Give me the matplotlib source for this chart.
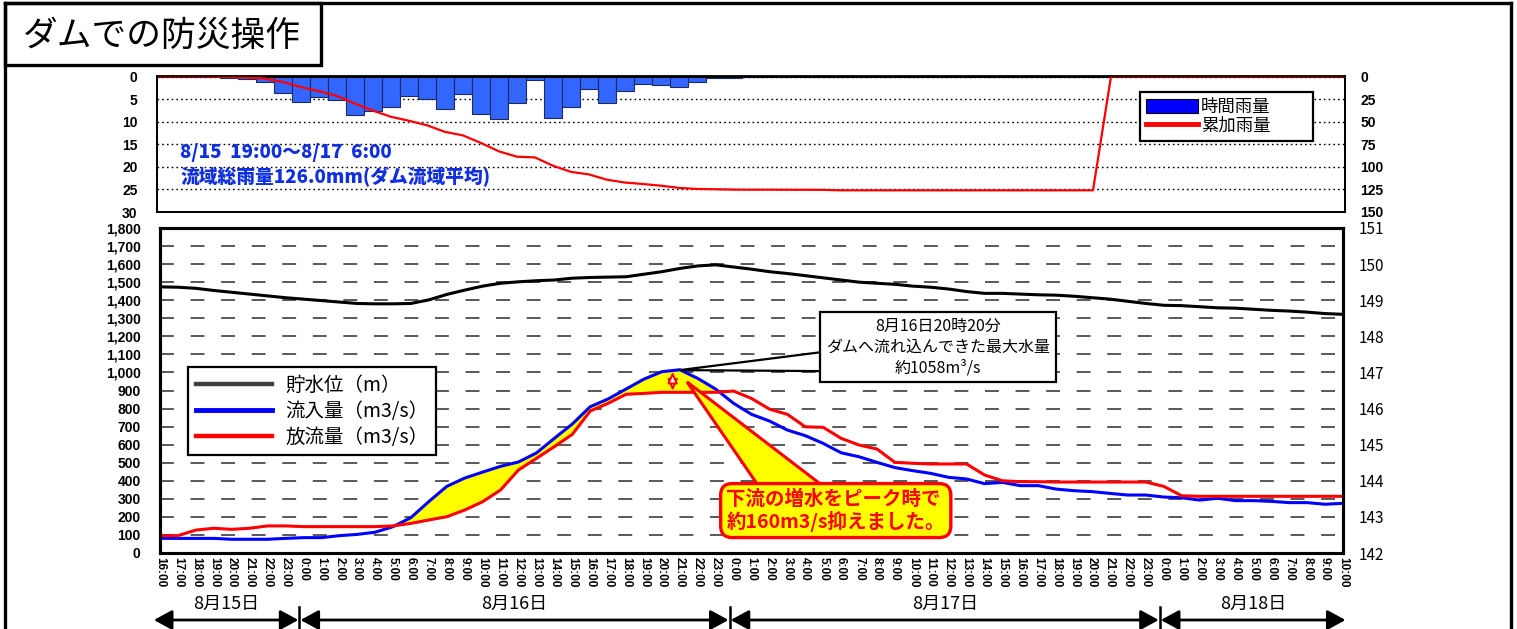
import matplotlib
matplotlib.use("Agg")
import matplotlib.pyplot as plt
import matplotlib.transforms as mtransforms
from matplotlib.lines import Line2D
from matplotlib.patches import Patch, Rectangle, Polygon

plt.rcParams['font.family'] = ['Noto Sans CJK JP', 'DejaVu Sans']
plt.rcParams['lines.scale_dashes'] = False

# ---------- データ ----------
hours = list(range(16, 24)) + list(range(0, 24)) + list(range(0, 24)) + list(range(0, 11))
tick_labels = [f"{h}:00" for h in hours]
day_labels = ["8月15日", "8月16日", "8月17日", "8月18日"]

# 時間雨量 (mm)
rain_hourly = [0, 0, 0, 0.1, 0.4, 0.6, 1.2, 3.7, 5.7, 4.5,
               5.3, 8.6, 7.7, 6.8, 4.4, 5.0, 7.3, 3.9, 8.4, 9.3,
               5.9, 0.8, 9.2, 6.8, 2.8, 5.9, 3.1, 1.6, 1.9, 2.4,
               1.2, 0.3, 0.4, 0.1, 0, 0.1, 0, 0.1, 0.1, 0,
               0, 0, 0, 0, 0, 0, 0, 0, 0, 0,
               0, 0, 0, 0, 0, 0, 0, 0, 0, 0,
               0, 0, 0, 0, 0, 0, 0]

# 累加雨量 (mm)
rain_total = [0, 0, 0, 0.1, 0.5, 1.1, 2.3, 6.0, 11.7, 16.2,
              21.5, 30.1, 37.8, 44.6, 49.0, 54.0, 61.3, 65.2, 73.6, 82.9,
              88.8, 89.6, 98.8, 105.6, 108.4, 114.3, 117.4, 119.0, 120.9, 123.3,
              124.5, 124.8, 125.2, 125.3, 125.3, 125.4, 125.4, 125.5, 126.0, 126.0,
              126.0, 126.0, 126.0, 126.0, 126.0, 126.0, 126.0, 126.0, 126.0, 126.0,
              126.0, 126.0, 126.0, 0, 0, 0, 0, 0, 0, 0,
              0, 0, 0, 0, 0, 0, 0]

# 流入量 (m3/s)
inflow = [81, 81, 81, 81, 76, 76, 76, 81, 85, 85,
          96, 103, 115, 146, 196, 285, 369, 415, 448, 480,
          504, 554, 635, 714, 810, 853, 908, 963, 1004, 1015,
          967, 908, 829, 768, 731, 681, 650, 607, 555, 533,
          502, 473, 456, 441, 419, 410, 384, 391, 373, 373,
          354, 345, 340, 330, 321, 321, 310, 306, 293, 303,
          290, 290, 286, 279, 279, 270, 275]

# 放流量 (m3/s)
outflow = [96, 96, 127, 137, 131, 137, 150, 150, 146, 146,
           146, 146, 146, 150, 164, 183, 201, 238, 284, 349,
           460, 524, 589, 657, 786, 829, 879, 884, 890, 890,
           890, 890, 897, 856, 797, 768, 699, 696, 635, 598,
           576, 502, 497, 493, 493, 493, 432, 400, 395, 395,
           393, 393, 393, 393, 393, 393, 369, 317, 314, 314,
           314, 314, 314, 314, 314, 314, 314]

# 貯水位 (m)
level = [149.37, 149.36, 149.33, 149.27, 149.22, 149.17, 149.12, 149.07, 149.03, 148.99,
         148.95, 148.91, 148.90, 148.90, 148.91, 149.01, 149.16, 149.28, 149.39, 149.47,
         149.51, 149.54, 149.56, 149.61, 149.63, 149.64, 149.65, 149.72, 149.79, 149.88,
         149.95, 149.98, 149.92, 149.86, 149.79, 149.74, 149.68, 149.62, 149.56, 149.50,
         149.47, 149.44, 149.39, 149.36, 149.31, 149.24, 149.19, 149.19, 149.17, 149.15,
         149.14, 149.11, 149.07, 149.03, 148.97, 148.91, 148.86, 148.85, 148.82, 148.79,
         148.78, 148.75, 148.72, 148.70, 148.67, 148.63, 148.61]

W, H = 1517, 629


def fig_rect(l, t, r, b):
    return [l / W, 1 - b / H, (r - l) / W, (b - t) / H]


num_font = dict(fontfamily='Liberation Sans', fontweight='bold')

fig = plt.figure(figsize=(W / 100, H / 100), dpi=100)
x = list(range(len(hours)))

# ---------- 枠とタイトル ----------
fig.add_artist(Line2D([5 / W, 1511 / W], [1 - 3 / H, 1 - 3 / H], color='black', lw=2.4,
                      transform=fig.transFigure))
fig.add_artist(Line2D([1511 / W, 1511 / W], [1 - 3 / H, 0], color='black', lw=2.4,
                      transform=fig.transFigure))
fig.add_artist(Line2D([5 / W, 5 / W], [1 - 3 / H, 0], color='black', lw=2.4,
                      transform=fig.transFigure))
fig.add_artist(Rectangle((5 / W, 1 - 65 / H), 316 / W, 62 / H, transform=fig.transFigure,
                         facecolor='white', edgecolor='black', lw=2.4))
fig.text(162 / W, 1 - 36 / H, "ダムでの防災操作", fontsize=25, ha='center', va='center')

# ---------- 上段：雨量 ----------
ax_top = fig.add_axes(fig_rect(157, 76.5, 1345, 212))
ax_top.bar(x, rain_hourly, width=1.0, color='#3366FF', edgecolor='#1F2A5C', linewidth=0.8, zorder=2)
ax_top.set_xlim(0, len(x) - 1)
ax_top.set_ylim(30, 0)
ax_top.set_xticks([])
ax_top.set_yticks(range(0, 31, 5), [str(v) for v in range(0, 31, 5)], fontsize=10, **num_font)
ax_top.tick_params(axis='y', length=0, pad=14)
ax_top.yaxis.grid(True, color='black', linestyle=(0, (1.2, 2.2)), lw=1.0)
for s in ax_top.spines.values():
    s.set_linewidth(1.3)

ax_top.text(1.3, 16.9, "8/15  19:00～8/17  6:00", color='#1030E0', fontsize=13.5,
            fontweight='heavy', va='center', ha='left', zorder=5)
ax_top.text(1.3, 22.2, "流域総雨量126.0mm(ダム流域平均)", color='#1030E0', fontsize=13.5,
            fontweight='heavy', va='center', ha='left', zorder=5)

ax_top_r = ax_top.twinx()
ax_top_r.plot(x, rain_total, color='#FF0000', lw=1.6)
ax_top_r.set_ylim(150, 0)
ax_top_r.set_yticks(range(0, 151, 25), [str(v) for v in range(0, 151, 25)], fontsize=10, **num_font)
ax_top_r.tick_params(axis='y', length=0, pad=11)
for s in ax_top_r.spines.values():
    s.set_linewidth(1.3)

leg_top = ax_top_r.legend([Patch(facecolor='#0000FF', edgecolor='black', lw=0.8),
                           Line2D([], [], color='#FF0000', lw=3.5)],
                          ["時間雨量", "累加雨量"], loc='upper left',
                          bbox_to_anchor=(0.8275, 0.5, 0.1456, 0.386), mode='expand',
                          fontsize=12.5, fancybox=False, edgecolor='black', framealpha=1,
                          handlelength=3.0, handleheight=0.9, handletextpad=0.15,
                          labelspacing=0.05, borderpad=0.35, borderaxespad=0)
leg_top.get_frame().set_linewidth(1.6)

# ---------- 下段：流量・水位 ----------
ax_bot = fig.add_axes(fig_rect(160, 228, 1343, 553))
ax_bot.fill_between(x, inflow, outflow, where=[i > o for i, o in zip(inflow, outflow)],
                    interpolate=True, color='#FFFF00', lw=0, zorder=2)
ax_bot.plot(x, inflow, color='#0000FF', lw=2.2, zorder=3)
ax_bot.plot(x, outflow, color='#FF0000', lw=2.2, zorder=3)
ax_bot.set_xlim(0, len(x) - 1)
ax_bot.set_ylim(0, 1800)
ax_bot.set_yticks(range(0, 1801, 100), [f"{v:,}" for v in range(0, 1801, 100)], fontsize=10, **num_font)
ax_bot.set_xticks(x, tick_labels, rotation=270, fontsize=8.5, **num_font)
ax_bot.tick_params(axis='x', length=0, pad=3)
ax_bot.tick_params(axis='y', length=0, pad=14)
ax_bot.yaxis.grid(True, color='#595959', linestyle=(0, (10, 12)), lw=1.4)
for s in ax_bot.spines.values():
    s.set_linewidth(2.2)

ax_bot_r = ax_bot.twinx()
ax_bot_r.plot(x, level, color='black', lw=2.2)
ax_bot_r.set_ylim(142, 151)
ax_bot_r.set_yticks(range(142, 152), [str(v) for v in range(142, 152)], fontsize=11)
ax_bot_r.tick_params(axis='y', length=0, pad=11)
for s in ax_bot_r.spines.values():
    s.set_linewidth(2.2)

leg_bot = ax_bot.legend([Line2D([], [], color='#404040', lw=3.2),
                         Line2D([], [], color='#0000FF', lw=3.5),
                         Line2D([], [], color='#FF0000', lw=3.2)],
                        ["貯水位（m）", "流入量（m3/s）", "放流量（m3/s）"], loc='upper left',
                        bbox_to_anchor=(0.0237, 0.2, 0.2096, 0.3723), mode='expand',
                        fontsize=14, fancybox=False, edgecolor='black', framealpha=1,
                        handlelength=3.9, handletextpad=0.7, labelspacing=0.25,
                        borderpad=0.4, borderaxespad=0)
leg_bot.get_frame().set_linewidth(1.6)

# 最大流入量の吹き出し
ax_bot.add_patch(Polygon([(29.0, 1013), (37.5, 1120), (37.5, 1007)], closed=True,
                         facecolor='white', edgecolor='black', lw=1.6, zorder=6))
ax_bot.text(43.4, 1140, "8月16日20時20分\nダムへ流れ込んできた最大水量\n約1058m³/s",
            ha='center', va='center', fontsize=11.5, linespacing=1.3, zorder=7,
            bbox=dict(boxstyle='square,pad=0.35', facecolor='white', edgecolor='black', lw=1.6))

# 低減量の吹き出し
ax_bot.add_patch(Polygon([(29.4, 948), (33.4, 370), (37.0, 370)], closed=True,
                         facecolor='#FFFF00', edgecolor='#FF0000', lw=2.2, zorder=6))
ax_bot.text(37.7, 235, "下流の増水をピーク時で\n約160m3/s抑えました。", ha='center', va='center',
            multialignment='left', fontsize=14, fontweight='bold', color='#FF0000',
            linespacing=1.1, zorder=7,
            bbox=dict(boxstyle='round,pad=0.3,rounding_size=0.6', facecolor='#FFFF00',
                      edgecolor='#FF0000', lw=2.4))
ax_bot.annotate('', xy=(28.6, 1004), xytext=(28.6, 899),
                arrowprops=dict(arrowstyle='<|-|>,head_length=0.45,head_width=0.2',
                                mutation_scale=15, facecolor='white', edgecolor='#FF0000',
                                lw=1.4, shrinkA=0, shrinkB=0), zorder=6)

# ---------- 日付の矢印 ----------
trans = mtransforms.blended_transform_factory(ax_bot.transData, fig.transFigure)
day_starts = [i for i, h in enumerate(hours) if h == 0]
edges = [-0.4] + [d - 0.22 for d in day_starts] + [len(x) - 1 + 0.2]
y_arrow = 1 - 620 / H
for k, name in enumerate(day_labels):
    x0, x1 = edges[k], edges[k + 1]
    ax_bot.annotate('', xy=(x1 - 0.06, y_arrow), xytext=(x0 + 0.06, y_arrow), xycoords=trans,
                    textcoords=trans, annotation_clip=False,
                    arrowprops=dict(arrowstyle='<|-|>,head_length=0.55,head_width=0.3',
                                    mutation_scale=20, color='black', lw=2,
                                    shrinkA=0, shrinkB=0))
    ax_bot.text((x0 + x1) / 2, 1 - 604 / H, name, transform=trans, ha='center', va='center',
                fontsize=13, clip_on=False)
for d in edges[1:-1]:
    fig.add_artist(Line2D([d, d], [1 - 607 / H, 0], color='black', lw=1.8, transform=trans))

fig.savefig("out.png", dpi=100)
